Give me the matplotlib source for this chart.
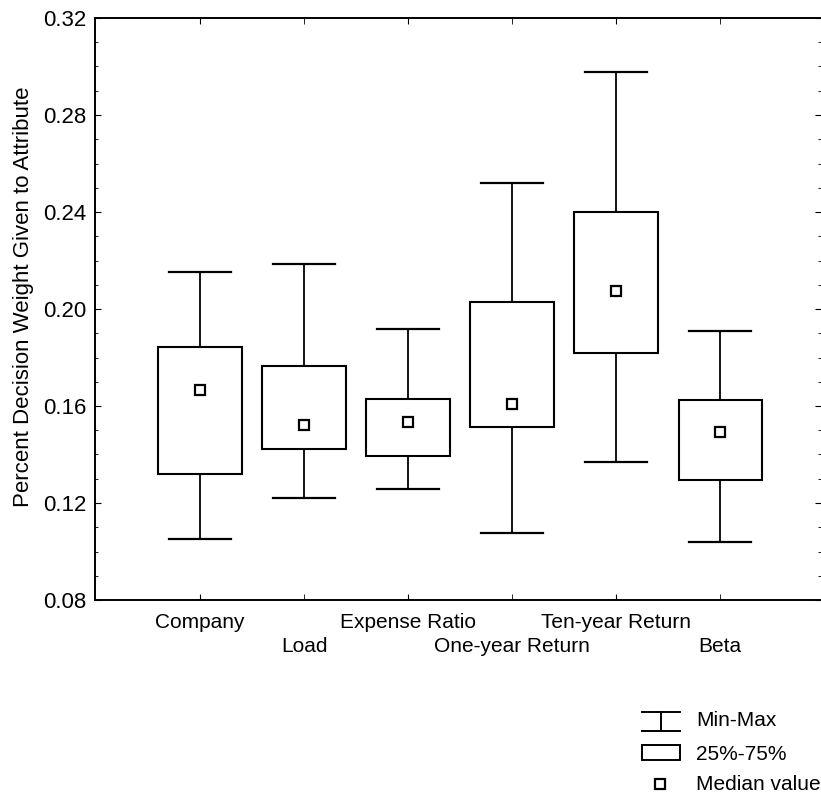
import numpy as np
import matplotlib
matplotlib.use("Agg")
import matplotlib.pyplot as plt
from matplotlib.lines import Line2D
from matplotlib.patches import Rectangle
from matplotlib.ticker import MultipleLocator

plt.rcParams['font.family'] = ['Liberation Sans', 'DejaVu Sans']

# values
categories = ['Company', 'Load', 'Expense Ratio', 'One-year Return', 'Ten-year Return', 'Beta']
v_min = [0.1052, 0.1221, 0.1258, 0.1076, 0.1369, 0.1039]
v_q1 = [0.1320, 0.1423, 0.1394, 0.1513, 0.1819, 0.1295]
v_med = [0.1666, 0.1522, 0.1534, 0.1608, 0.2074, 0.1493]
v_q3 = [0.1843, 0.1765, 0.1629, 0.2029, 0.2400, 0.1625]
v_max = [0.2153, 0.2186, 0.1918, 0.2520, 0.2977, 0.1909]

fig = plt.figure(figsize=(8.21, 7.93), dpi=100)
ax = fig.add_axes([95 / 821, 1 - 600 / 793, 726 / 821, 582 / 793])

box_w = 0.8
cap_w = 0.6
x = np.arange(len(categories))
for i in x:
    # whiskers + caps
    ax.plot([i, i], [v_q3[i], v_max[i]], color='black', lw=1.3)
    ax.plot([i, i], [v_min[i], v_q1[i]], color='black', lw=1.3)
    ax.plot([i - cap_w / 2, i + cap_w / 2], [v_max[i], v_max[i]], color='black', lw=1.6)
    ax.plot([i - cap_w / 2, i + cap_w / 2], [v_min[i], v_min[i]], color='black', lw=1.6)
    ax.add_patch(Rectangle((i - box_w / 2, v_q1[i]), box_w, v_q3[i] - v_q1[i],
                           facecolor='white', edgecolor='black', lw=1.5, zorder=2))
    ax.plot(i, v_med[i], marker='s', ms=7, mfc='white', mec='black', mew=1.6, zorder=3)

ax.set_xlim(-1.01, 5.97)
ax.set_ylim(0.08, 0.32)
ax.yaxis.set_major_locator(MultipleLocator(0.04))
ax.yaxis.set_minor_locator(MultipleLocator(0.01))
ax.set_yticklabels([f'{v:.2f}' for v in ax.get_yticks()])

# staggered category labels: even ones as major ticks, odd ones as minor ticks
ax.set_xticks(x[0::2], categories[0::2])
ax.set_xticks(x[1::2], categories[1::2], minor=True)
ax.tick_params(axis='x', which='major', direction='in', length=4, top=True, pad=9, labelsize=15)
ax.tick_params(axis='x', which='minor', direction='in', length=4, top=True, pad=27, labelsize=15)
ax.tick_params(axis='y', which='major', direction='in', length=4, labelsize=16, right=True, pad=6)
ax.tick_params(axis='y', which='minor', direction='in', length=2, right=True)
ax.spines['right'].set_visible(False)
for s in ['left', 'bottom', 'top']:
    ax.spines[s].set_linewidth(1.4)
ax.set_ylabel('Percent Decision Weight Given to Attribute', fontsize=16, va='center')
ax.yaxis.set_label_coords(-0.098, 0.521)

# legend drawn in figure pixels
def fx(px):
    return px / 821

def fy(py):
    return 1 - py / 793

lk = dict(color='black', lw=1.4, transform=fig.transFigure)
fig.add_artist(Line2D([fx(642), fx(680)], [fy(712), fy(712)], **lk))
fig.add_artist(Line2D([fx(642), fx(680)], [fy(731), fy(731)], **lk))
fig.add_artist(Line2D([fx(661), fx(661)], [fy(712), fy(731)], **lk))
fig.add_artist(Rectangle((fx(642), fy(760)), fx(38), 15 / 793, fill=False,
                         edgecolor='black', lw=1.4, transform=fig.transFigure))
fig.add_artist(Line2D([fx(660)], [fy(784)], marker='s', ms=7, mfc='white', mec='black',
                      mew=1.6, transform=fig.transFigure))
for label, py in [('Min-Max', 721), ('25%-75%', 754), ('Median value', 785)]:
    fig.text(fx(696), fy(py), label, fontsize=15, va='center', ha='left')

fig.savefig('out.png', dpi=100)
